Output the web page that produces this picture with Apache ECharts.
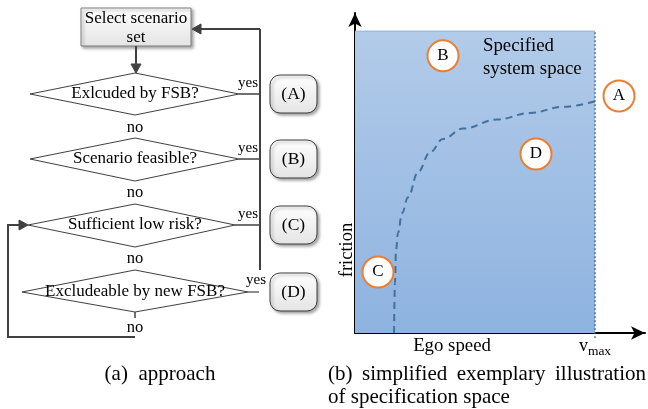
<!DOCTYPE html>
<html><head><meta charset="utf-8">
<script src="https://cdn.jsdelivr.net/npm/echarts@6/dist/echarts.min.js"></script>
<style>html,body{margin:0;padding:0;background:#fff}#c{width:648px;height:409px}</style>
</head><body><div id="c"></div>
<script>
// ---- data ----
const startLabel = ['Select scenario', 'set'];
const decisions = ['Exlcuded by FSB?', 'Scenario feasible?', 'Sufficient low risk?', 'Excludeable by new FSB?'];
const outcomes = ['(A)', '(B)', '(C)', '(D)'];
const yesLabel = 'yes';
const noLabel = 'no';
const captionA = '(a)  approach';
const captionB1 = ['(b)', 'simplified', 'exemplary', 'illustration'];
const captionB2 = 'of specification space';

const vmax = 120;
const frictionMax = 1.0;
const specBound = [[0, frictionMax], [vmax, frictionMax]];
const vmaxLine = [[vmax, -0.017], [vmax, frictionMax]];
const riskCurve = [[19.5, 0], [20, 0.166], [20.5, 0.275], [21.5, 0.331], [23.5, 0.397], [26.5, 0.45], [31.5, 0.533], [37.5, 0.598], [44, 0.643], [54, 0.677], [71, 0.707], [87.5, 0.729], [104, 0.749], [120, 0.768]];
const regionMarks = [[132, 0.785, 'A'], [44, 0.918, 'B'], [11.5, 0.202, 'C'], [90.5, 0.593, 'D']];
const xTickValues = [vmax];
const xTickLabels = ['{v|v}{s|max}'];
const spaceLabel = ['Specified', 'system space'];
const xName = 'Ego speed';
const yName = 'friction';

// ---- flowchart layout ----
const F = 'Liberation Serif';
const dark = '#404040';
const boxGrad = new echarts.graphic.LinearGradient(0, 0, 0, 1, [{offset: 0, color: '#ffffff'}, {offset: 1, color: '#e4e4e4'}]);
const shadow = {shadowBlur: 3, shadowOffsetX: 2, shadowOffsetY: 2, shadowColor: 'rgba(0,0,0,0.35)'};
const dia = [
  {l: 30, r: 239, t: 73, b: 115, cy: 94},
  {l: 30, r: 239, t: 138, b: 181, cy: 159},
  {l: 28, r: 235, t: 204, b: 247, cy: 225},
  {l: 22, r: 248, t: 270, b: 312, cy: 292}
];
const cx = 135;
const noY = [128, 193, 259, 328];
const g = [];
function txt(t, x, y, size, align, extra) {
  g.push({type: 'text', z: 10, style: Object.assign({text: t, x: x, y: y, font: size + 'px "' + F + '"', fill: '#000', align: align || 'center', verticalAlign: 'middle'}, extra || {})});
}
function line(pts, w, c) {
  g.push({type: 'polyline', z: 5, shape: {points: pts}, style: {stroke: c || dark, lineWidth: w || 2, fill: null}});
}
function tri(pts) {
  g.push({type: 'polygon', z: 6, shape: {points: pts}, style: {fill: dark, stroke: dark, lineWidth: 1}});
}
// start box
g.push({type: 'rect', z: 4, shape: {x: 81, y: 8, width: 110, height: 38}, style: Object.assign({fill: boxGrad, stroke: '#7f7f7f', lineWidth: 1}, shadow)});
txt(startLabel[0], 136, 19, 17);
txt(startLabel[1], 136, 38, 17);
line([[136, 46], [136, 65]], 2);
tri([[131, 64], [141, 64], [136, 73]]);
// feedback vertical
line([[260, 29], [260, 270]], 2);
line([[260, 29], [200, 29]], 2);
tri([[201, 24], [201, 34], [192, 29]]);
// diamonds
dia.forEach(function (d, i) {
  g.push({type: 'polygon', z: 4, shape: {points: [[d.l, d.cy], [cx, d.t], [d.r, d.cy], [cx, d.b]]}, style: {fill: '#fff', stroke: dark, lineWidth: 1}});
  txt(decisions[i], cx, d.cy, 17);
  txt(noLabel, cx, noY[i], 16.5);
  if (i < 3) {
    line([[d.r, d.cy], [260, d.cy]], 1.5);
    txt(yesLabel, 248, d.cy - 11, 15);
  } else {
    line([[d.r, d.cy], [259, d.cy]], 1.2);
    txt(yesLabel, 256, d.cy - 12, 15);
  }
  g.push({type: 'rect', z: 4, shape: {x: 270, y: d.cy - 19, width: 47, height: 38, r: 10}, style: Object.assign({fill: boxGrad, stroke: dark, lineWidth: 1}, shadow)});
  txt(outcomes[i], 293.5, d.cy, 17.5);
});
// loop back
line([[135, 312], [135, 318]], 1.5);
line([[135, 337], [8, 337], [8, 225], [20, 225]], 2);
tri([[19, 220], [19, 230], [28, 225]]);
// captions
const capFont = 21;
txt(captionA, 160, 374, capFont);
(function () {
  const ctx = document.createElement('canvas').getContext('2d');
  ctx.font = capFont + 'px "' + F + '"';
  const L = 328, R = 646;
  const ws = captionB1.map(function (w) { return ctx.measureText(w).width; });
  const gap = (R - L - ws.reduce(function (a, b) { return a + b; }, 0)) / (captionB1.length - 1);
  let x = L;
  captionB1.forEach(function (w, i) { txt(w, x, 374, capFont, 'left'); x += ws[i] + gap; });
})();
txt(captionB2, 328, 397, capFont, 'left');
// chart texts
txt(spaceLabel[0], 483, 46, 18.8, 'left');
txt(spaceLabel[1], 483, 69, 18.8, 'left');
txt(xName, 452, 346, 18.8);
g.push({type: 'text', z: 10, x: 347, y: 250, rotation: Math.PI / 2, style: {text: yName, x: 0, y: 0, font: '18.5px "' + F + '"', fill: '#000', align: 'center', verticalAlign: 'middle'}});

const chart = echarts.init(document.getElementById('c'), null, {renderer: 'canvas'});
chart.setOption({
  animation: false,
  backgroundColor: '#fff',
  graphic: g,
  grid: {left: 355, right: 3, top: 13, bottom: 76, containLabel: false},
  xAxis: {
    type: 'value', min: 0, max: 145,
    axisLine: {show: true, lineStyle: {color: '#000', width: 2}, symbol: ['none', 'arrow'], symbolSize: [10, 14]},
    axisTick: {show: false},
    splitLine: {show: false},
    axisLabel: {
      show: true, customValues: xTickValues, margin: 4,
      formatter: function (v) { return xTickLabels[xTickValues.indexOf(v)] || ''; },
      rich: {v: {fontFamily: F, fontSize: 18, color: '#000', verticalAlign: 'bottom', padding: [0, 0, 3, 0]}, s: {fontFamily: F, fontSize: 13.5, color: '#000', verticalAlign: 'bottom'}}
    }
  },
  yAxis: {
    type: 'value', min: 0, max: 1.06,
    axisLine: {show: true, lineStyle: {color: '#000', width: 2}, symbol: ['none', 'arrow'], symbolSize: [10, 14]},
    axisTick: {show: false}, axisLabel: {show: false}, splitLine: {show: false}
  },
  series: [
    {
      type: 'line', data: specBound, symbol: 'none', z: 1,
      lineStyle: {color: '#8fb2dc', width: 1},
      areaStyle: {origin: 'start', opacity: 1, color: new echarts.graphic.LinearGradient(0, 0, 0, 1, [{offset: 0, color: '#b2cbe9'}, {offset: 1, color: '#8eb3e0'}])}
    },
    {
      type: 'line', data: vmaxLine, symbol: 'none', z: 2, clip: false,
      lineStyle: {color: '#2f5b8a', width: 1.2, type: [2, 2]}
    },
    {
      type: 'line', data: riskCurve, symbol: 'none', smooth: 0.4, smoothMonotone: 'x', z: 3,
      lineStyle: {color: '#41719c', width: 2, type: [7, 5]}
    },
    {
      type: 'scatter', data: regionMarks, symbol: 'circle', symbolSize: 31, z: 4, clip: false,
      itemStyle: {color: '#fff', borderColor: '#ed7d31', borderWidth: 2, opacity: 1},
      label: {show: true, position: 'inside', formatter: function (p) { return p.value[2]; }, fontFamily: F, fontSize: 17, color: '#000'}
    }
  ]
});
</script></body></html>
